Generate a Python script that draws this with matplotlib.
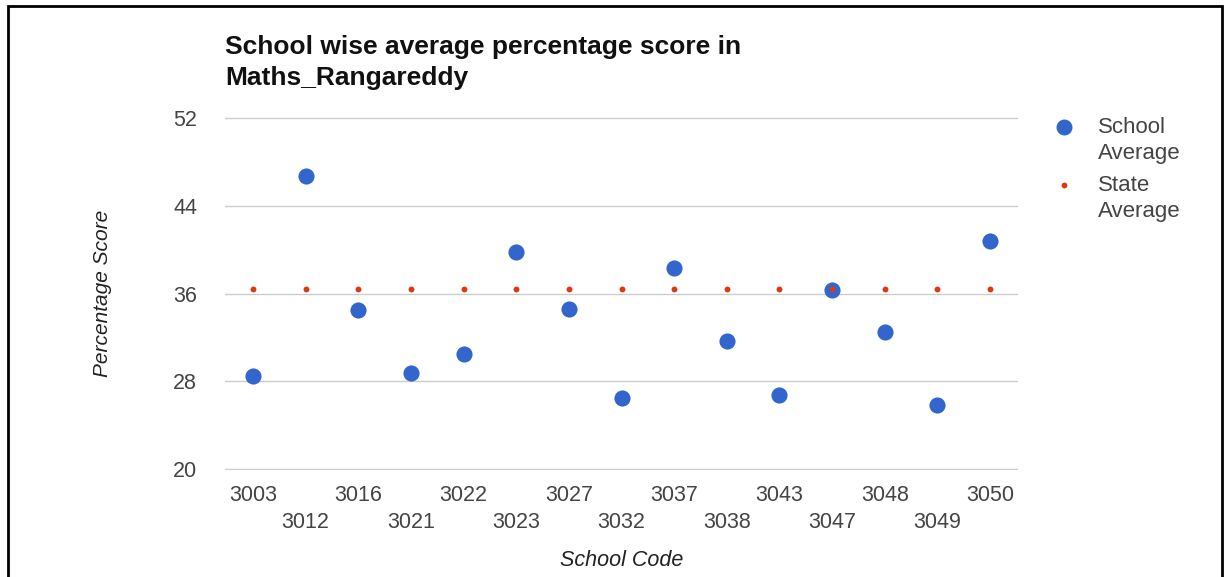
import numpy as np
import matplotlib.pyplot as plt
from matplotlib.lines import Line2D
from matplotlib.patches import Rectangle

plt.rcParams['font.family'] = ['Liberation Sans', 'DejaVu Sans']

school_codes = ['3003', '3012', '3016', '3021', '3022', '3023', '3027', '3032',
                '3037', '3038', '3043', '3047', '3048', '3049', '3050']
school_avg = [28.5, 46.7, 34.5, 28.8, 30.5, 39.8, 34.6, 26.5,
              38.3, 31.7, 26.8, 36.3, 32.5, 25.9, 40.8]
state_avg = [36.4] * len(school_codes)

blue = '#3366cc'
red = '#dc3912'

fig = plt.figure(figsize=(12.3, 5.77), dpi=100)
ax = fig.add_axes([225 / 1230, 1 - 470 / 577, (1018 - 225) / 1230, (470 - 117) / 577])

x = np.arange(len(school_codes))
ax.scatter(x, school_avg, s=135, color=blue, zorder=3, linewidths=0)
ax.scatter(x, state_avg, s=18, color=red, zorder=4, linewidths=0)

ax.set_xlim(-0.53, len(school_codes) - 1 + 0.53)
ax.set_ylim(19.95, 52.05)
ax.set_yticks([20, 28, 36, 44, 52])
ax.grid(axis='y', color='#cccccc', linewidth=1)
ax.set_axisbelow(True)
for s in ax.spines.values():
    s.set_visible(False)

labels = [c if i % 2 == 0 else '\n' + c for i, c in enumerate(school_codes)]
ax.set_xticks(x)
ax.set_xticklabels(labels, linespacing=1.35)
ax.tick_params(axis='both', length=0, labelsize=15.5, labelcolor='#444444')
ax.tick_params(axis='y', pad=20)
ax.tick_params(axis='x', pad=11)

ax.set_ylabel('Percentage Score', fontsize=15, style='italic', color='#222222', labelpad=44)
ax.set_xlabel('School Code', fontsize=15.5, style='italic', color='#222222', labelpad=12)

fig.text(225 / 1230, 1 - 35 / 577, 'School wise average percentage score in\nMaths_Rangareddy',
         fontsize=19, fontweight='bold', color='#111111', va='top', ha='left', linespacing=1.38)

# legend drawn by hand to match layout
leg = [(blue, 11.5, 'School\nAverage', 127), (red, 4.2, 'State\nAverage', 185)]
for col, ms, txt, yp in leg:
    fig.add_artist(Line2D([1064 / 1230], [1 - yp / 577], marker='o', color=col,
                          markersize=ms, markeredgewidth=0, linestyle='none'))
    fig.text(1098 / 1230, 1 - (yp - 10) / 577, txt, fontsize=16, color='#444444',
             va='top', ha='left', linespacing=1.3)

# frame around the image
fig.add_artist(Rectangle((8 / 1230, -0.05), (1222 - 8) / 1230, 1.05 - 6 / 577,
                         transform=fig.transFigure, fill=False, edgecolor='black', linewidth=2))

fig.savefig('out.png', dpi=100)
